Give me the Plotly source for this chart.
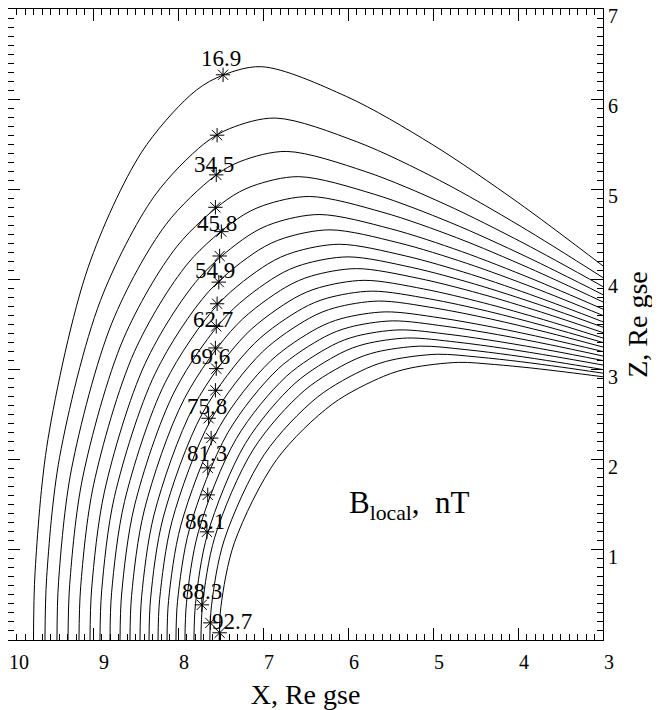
import plotly.graph_objects as go

# ---- field lines: (X, Z) points, outer (1) to inner (20)
fl01 = [(9.700, 0.0), (9.681, 0.763), (9.530, 2.226), (9.057, 4.134), (8.432, 5.406), (7.857, 6.042), (7.553, 6.233), (7.020, 6.360), (6.015, 6.028), (5.010, 5.498), (4.005, 4.857), (3.000, 4.150)]
fl02 = [(9.565, 0.0), (9.545, 0.695), (9.393, 2.027), (8.913, 3.764), (8.280, 4.922), (7.698, 5.501), (7.390, 5.674), (6.850, 5.790), (5.888, 5.524), (4.925, 5.100), (3.963, 4.586), (3.000, 4.020)]
fl03 = [(9.424, 0.0), (9.405, 0.650), (9.253, 1.897), (8.775, 3.523), (8.144, 4.607), (7.564, 5.149), (7.258, 5.312), (6.720, 5.420), (5.790, 5.195), (4.860, 4.835), (3.930, 4.400), (3.000, 3.920)]
fl04 = [(9.294, 0.0), (9.274, 0.617), (9.122, 1.799), (8.642, 3.341), (8.010, 4.369), (7.427, 4.883), (7.120, 5.037), (6.580, 5.140), (5.685, 4.943), (4.790, 4.629), (3.895, 4.249), (3.000, 3.830)]
fl05 = [(9.165, 0.0), (9.145, 0.590), (8.993, 1.722), (8.513, 3.198), (7.880, 4.182), (7.298, 4.674), (6.990, 4.822), (6.450, 4.920), (5.588, 4.744), (4.725, 4.464), (3.863, 4.124), (3.000, 3.750)]
fl06 = [(9.035, 0.0), (9.016, 0.566), (8.864, 1.652), (8.386, 3.068), (7.755, 4.012), (7.175, 4.484), (6.868, 4.626), (6.330, 4.720), (5.498, 4.562), (4.665, 4.310), (3.833, 4.006), (3.000, 3.670)]
fl07 = [(8.918, 0.0), (8.898, 0.546), (8.747, 1.593), (8.268, 2.958), (7.637, 3.868), (7.055, 4.323), (6.749, 4.459), (6.210, 4.550), (5.408, 4.407), (4.605, 4.179), (3.803, 3.904), (3.000, 3.600)]
fl08 = [(8.800, 0.0), (8.781, 0.527), (8.629, 1.537), (8.152, 2.854), (7.522, 3.732), (6.943, 4.171), (6.637, 4.302), (6.100, 4.390), (5.325, 4.261), (4.550, 4.055), (3.775, 3.805), (3.000, 3.530)]
fl09 = [(8.682, 0.0), (8.663, 0.510), (8.512, 1.488), (8.038, 2.763), (7.413, 3.613), (6.837, 4.038), (6.534, 4.165), (6.000, 4.250), (5.250, 4.133), (4.500, 3.946), (3.750, 3.720), (3.000, 3.470)]
fl10 = [(8.565, 0.0), (8.546, 0.494), (8.396, 1.442), (7.925, 2.678), (7.304, 3.502), (6.732, 3.914), (6.430, 4.038), (5.900, 4.120), (5.175, 4.013), (4.450, 3.843), (3.725, 3.637), (3.000, 3.410)]
fl11 = [(8.447, 0.0), (8.428, 0.479), (8.280, 1.397), (7.814, 2.594), (7.199, 3.392), (6.633, 3.791), (6.335, 3.910), (5.810, 3.990), (5.108, 3.894), (4.405, 3.740), (3.703, 3.555), (3.000, 3.350)]
fl12 = [(8.341, 0.0), (8.322, 0.464), (8.175, 1.355), (7.712, 2.516), (7.101, 3.290), (6.538, 3.677), (6.242, 3.793), (5.720, 3.870), (5.040, 3.784), (4.360, 3.648), (3.680, 3.482), (3.000, 3.300)]
fl13 = [(8.235, 0.0), (8.216, 0.451), (8.071, 1.316), (7.612, 2.444), (7.007, 3.196), (6.450, 3.572), (6.156, 3.685), (5.640, 3.760), (4.980, 3.683), (4.320, 3.561), (3.660, 3.413), (3.000, 3.250)]
fl14 = [(8.129, 0.0), (8.111, 0.437), (7.966, 1.274), (7.512, 2.366), (6.913, 3.094), (6.362, 3.458), (6.071, 3.567), (5.560, 3.640), (4.920, 3.574), (4.280, 3.468), (3.640, 3.341), (3.000, 3.200)]
fl15 = [(8.024, 0.0), (8.006, 0.425), (7.863, 1.239), (7.413, 2.301), (6.820, 3.009), (6.274, 3.363), (5.986, 3.469), (5.480, 3.540), (4.860, 3.481), (4.240, 3.388), (3.620, 3.275), (3.000, 3.150)]
fl16 = [(7.918, 0.0), (7.900, 0.413), (7.759, 1.204), (7.313, 2.236), (6.726, 2.924), (6.186, 3.268), (5.901, 3.371), (5.400, 3.440), (4.800, 3.389), (4.200, 3.307), (3.600, 3.209), (3.000, 3.100)]
fl17 = [(7.812, 0.0), (7.794, 0.402), (7.653, 1.173), (7.209, 2.178), (6.623, 2.848), (6.084, 3.183), (5.800, 3.283), (5.300, 3.350), (4.725, 3.305), (4.150, 3.233), (3.575, 3.146), (3.000, 3.050)]
fl18 = [(7.730, 0.0), (7.711, 0.391), (7.567, 1.141), (7.111, 2.119), (6.509, 2.771), (5.955, 3.097), (5.663, 3.195), (5.150, 3.260), (4.613, 3.221), (4.075, 3.159), (3.538, 3.083), (3.000, 3.000)]
fl19 = [(7.625, 0.0), (7.606, 0.380), (7.456, 1.110), (6.983, 2.061), (6.359, 2.695), (5.785, 3.012), (5.482, 3.107), (4.950, 3.170), (4.463, 3.138), (3.975, 3.088), (3.488, 3.027), (3.000, 2.960)]
fl20 = [(7.515, 0.0), (7.495, 0.370), (7.337, 1.078), (6.839, 2.002), (6.183, 2.618), (5.579, 2.926), (5.260, 3.018), (4.700, 3.080), (4.275, 3.056), (3.850, 3.018), (3.425, 2.971), (3.000, 2.920)]

field_lines = [fl01, fl02, fl03, fl04, fl05, fl06, fl07, fl08, fl09, fl10,
               fl11, fl12, fl13, fl14, fl15, fl16, fl17, fl18, fl19, fl20]

# ---- star markers on the lines
star_x = [7.47, 7.54, 7.55, 7.56, 7.49, 7.51, 7.52, 7.54, 7.55, 7.56,
          7.55, 7.56, 7.64, 7.61, 7.65, 7.65, 7.66, 7.72, 7.62, 7.51]
star_z = [6.27, 5.60, 5.16, 4.80, 4.53, 4.26, 3.97, 3.73, 3.48, 3.24,
          3.01, 2.77, 2.46, 2.24, 1.91, 1.61, 1.20, 0.39, 0.19, 0.08]

# ---- B local labels (nT)
label_text = ["16.9", "34.5", "45.8", "54.9", "62.7", "69.6", "75.8", "81.3", "86.1", "88.3", "92.7"]
label_x = [7.49, 7.58, 7.54, 7.56, 7.59, 7.62, 7.66, 7.66, 7.68, 7.72, 7.36]
label_z = [6.45, 5.27, 4.62, 4.10, 3.56, 3.15, 2.59, 2.07, 1.32, 0.54, 0.20]

NB = "\u00a0"
x_label_alias = {"9": NB + "9"}
z_label_alias = {"0": " "}

FONT = "Liberation Serif"

fig = go.Figure()
for pts in field_lines:
    fig.add_trace(go.Scatter(
        x=[p[0] for p in pts], y=[p[1] for p in pts], mode="lines",
        line=dict(color="black", width=1, shape="spline", smoothing=0.9),
        hoverinfo="skip", showlegend=False))

fig.add_trace(go.Scatter(
    x=star_x, y=star_z, mode="markers",
    marker=dict(symbol="asterisk-open", size=12, color="black",
                line=dict(color="black", width=1)),
    hoverinfo="skip", showlegend=False))

for t, lx, lz in zip(label_text, label_x, label_z):
    fig.add_annotation(x=lx, y=lz, text=t, showarrow=False,
                       font=dict(family=FONT, size=23, color="black"),
                       xanchor="center", yanchor="middle")

fig.add_annotation(x=5.28, y=1.50, text="B<sub>local</sub>,  nT", showarrow=False,
                   font=dict(family=FONT, size=31, color="black"),
                   xanchor="center", yanchor="middle")

axis_common = dict(
    showline=True, linecolor="black", linewidth=1, mirror="ticks",
    ticks="inside", ticklen=12, tickwidth=1, tickcolor="black",
    showgrid=False, zeroline=False,
    tickfont=dict(family=FONT, size=20, color="black"),
    ticklabeloverflow="allow",
    minor=dict(dtick=0.1, ticks="inside", ticklen=6,
               tickwidth=1, tickcolor="black", showgrid=False),
    automargin=False,
)

fig.update_xaxes(range=[10, 3], tickmode="linear", tick0=0, dtick=1,
                 labelalias=x_label_alias, ticklabelstandoff=4,
                 ticklabelposition="outside right",
                 title=dict(text="X, Re gse",
                            font=dict(family=FONT, size=28, color="black"),
                            standoff=16),
                 **axis_common)
fig.update_yaxes(range=[0, 7], side="right", tickmode="linear", tick0=0, dtick=1,
                 labelalias=z_label_alias, ticklabelshift=7,
                 title=dict(text="Z, Re gse", font=dict(family=FONT, size=28, color="black"),
                            standoff=10),
                 **axis_common)

fig.update_layout(
    width=652, height=702,
    margin=dict(l=0, r=57, t=1, b=70),
    paper_bgcolor="white", plot_bgcolor="white",
    showlegend=False,
)

fig.write_html("out.html")
